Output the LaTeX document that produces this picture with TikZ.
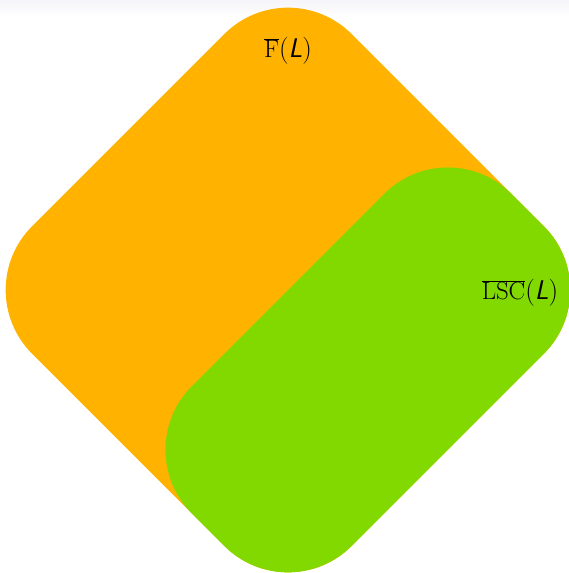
\documentclass[tikz,border=0pt]{standalone}
\definecolor{setorange}{RGB}{255,178,0}
\definecolor{setgreen}{RGB}{130,217,0}
\definecolor{bandgray}{RGB}{245,245,250}
\tikzset{
  setlabel/.style={inner sep=0pt, font=\fontsize{27}{32}\selectfont},
}
\newcommand{\varL}{\textsf{\itshape L}}
\begin{document}
\begin{tikzpicture}[x=1pt,y=1pt]
  \useasboundingbox (0,0) rectangle (569,573);
  % faint band along the top edge
  \shade[top color=bandgray, bottom color=white] (0,573) rectangle (569,556);
  % the two sets, both drawn as rounded squares turned by 45 degrees
  \begin{scope}[shift={(288,283)}, rotate=45]
    \fill[setorange, rounded corners=90pt] (-226,-226) rectangle (226,226);
    \fill[setgreen, rounded corners=90pt] (-226,-226) rectangle (226,0);
  \end{scope}
  \node[setlabel] (F) at (288,522) {$\overline{\mathrm{F}}$(\varL)};
  \node[setlabel] (LSC) at (520,280) {$\overline{\mathrm{LSC}}$(\varL)};
\end{tikzpicture}
\end{document}
